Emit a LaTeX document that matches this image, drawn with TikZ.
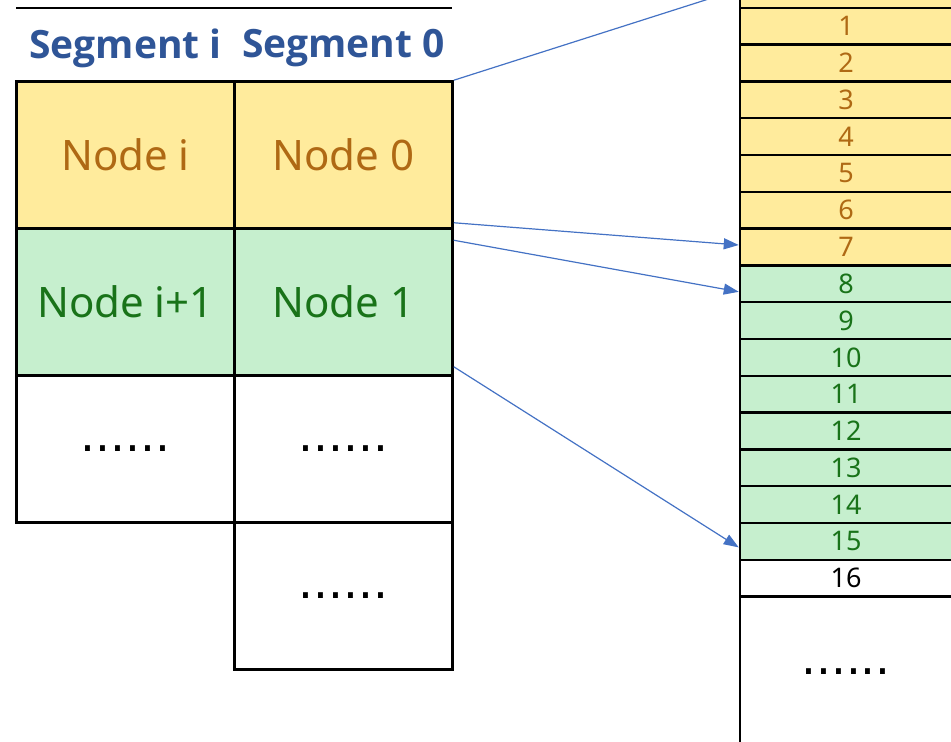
\documentclass[tikz,border=0pt]{standalone}
\usepackage{fontspec}
\setmainfont{Noto Sans}
\newfontfamily\titlefont{Open Sans}
\newfontfamily\dotfont{DejaVu Sans}
\usetikzlibrary{arrows.meta}

\definecolor{segblue}{HTML}{2F5597}
\definecolor{ptrblue}{HTML}{4472C4}
\definecolor{usedfill}{HTML}{FFEB9C}
\definecolor{usedtext}{RGB}{175,105,20}
\definecolor{freefill}{HTML}{C6EFCE}
\definecolor{freetext}{RGB}{25,115,25}

\tikzset{
  seglabel/.style={font=\titlefont\bfseries\fontsize{39}{39}\selectfont, text=segblue, inner sep=0pt},
  cell/.style={draw, line width=2.5pt, minimum width=218pt, minimum height=147pt, inner sep=0pt,
               font=\fontsize{42}{42}\selectfont},
  dotcell/.style={cell, font=\dotfont\fontsize{47}{47}\selectfont},
  slot/.style={draw, line width=2.5pt, minimum width=212pt, minimum height=36.8pt, inner sep=0pt,
               font=\fontsize{27}{27}\selectfont},
  ptr/.style={-{Triangle[length=15pt,width=11pt]}, line width=1.2pt, ptrblue},
}

\begin{document}
\begin{tikzpicture}[x=1pt,y=-1pt]
\useasboundingbox (0,0) rectangle (951,742);

\draw[line width=2pt] (16,8) -- (452,8);
\node[seglabel] (segi) at (125.5,48) {Segment i};
\node[seglabel] (seg0) at (343.5,48) {Segment 0};

% segment i
\node[cell, fill=usedfill, text=usedtext] (ni) at (125.5,155) {Node i};
\node[cell, fill=freefill, text=freetext] (ni1) at (125.5,302) {Node i+1};
\node[dotcell] (nidots) at (125.5,449) {......};

% segment 0
\node[cell, fill=usedfill, text=usedtext] (n0) at (343.5,155) {Node 0};
\node[cell, fill=freefill, text=freetext] (n1) at (343.5,302) {Node 1};
\node[dotcell] (n0dots) at (343.5,449) {......};
\node[dotcell] (n0more) at (343.5,596) {......};

% slots
\foreach \k in {0,...,7}
  \node[slot, fill=usedfill, text=usedtext] (s\k) at (846,-10.6+36.8*\k) {\k};
\foreach \k in {8,...,15}
  \node[slot, fill=freefill, text=freetext] (s\k) at (846,-10.6+36.8*\k) {\k};
\node[slot] (s16) at (846,578.2) {16};
\node[slot, minimum height=150pt, font=\dotfont\fontsize{47}{47}\selectfont] (srest) at (846,671.6) {......};

\draw[ptr] (n0.north east) -- (s0.west);
\draw[ptr] ([yshift=7pt]n0.south east) -- ([yshift=2pt]s7.west);
\draw[ptr] ([yshift=-13pt]n1.north east) -- ([yshift=-8pt]s8.west);
\draw[ptr] ([yshift=10pt]n1.south east) -- ([yshift=-6pt]s15.west);
\end{tikzpicture}
\end{document}
